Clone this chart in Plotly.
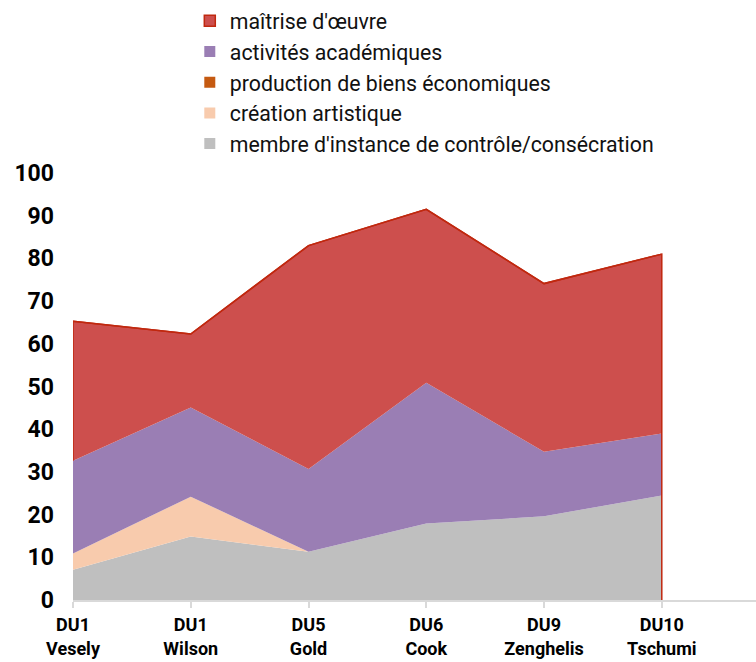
import numpy as np
import plotly.graph_objects as go

categories = ["DU1<br>Vesely", "DU1<br>Wilson", "DU5<br>Gold", "DU6<br>Cook", "DU9<br>Zenghelis", "DU10<br>Tschumi"]

membre = [7.1, 14.9, 11.3, 17.9, 19.6, 24.5]
creation = [3.8, 9.3, 0.0, 0.0, 0.0, 0.0]
production = [0.0, 0.0, 0.0, 0.0, 0.0, 0.0]
academique = [21.7, 20.9, 19.4, 33.0, 15.1, 14.5]
maitrise = [32.7, 17.2, 52.3, 40.6, 39.4, 42.0]

OUTLINE = "#C0280F"
series = [
    ("membre d'instance de contrôle/consécration", membre, "#BFBFBF"),
    ("création artistique", creation, "#F8CBAD"),
    ("production de biens économiques", production, "#C55A11"),
    ("activités académiques", academique, "#9A7EB4"),
    ("maîtrise d'œuvre", maitrise, "#CD4F4D"),
]

fig = go.Figure()
for i, (name, vals, color) in enumerate(series):
    top = name == "maîtrise d'œuvre"
    fig.add_trace(go.Scatter(
        x=categories, y=vals, name=name, stackgroup="one",
        mode="lines", fillcolor=color,
        line=dict(color=OUTLINE if top else color, width=1.5 if top else 0),
        showlegend=False, hoverinfo="skip",
    ))

# square legend swatches
for i, (name, vals, color) in enumerate(series):
    top = name == "maîtrise d'œuvre"
    fig.add_trace(go.Scatter(
        x=[None], y=[None], name=name, mode="markers",
        marker=dict(symbol="square", size=11, color=color,
                    line=dict(color=OUTLINE if top else color, width=1.5 if top else 0)),
        legendgroup=str(i), showlegend=True,
    ))

# outline of the top band, closing down on its edges
lower = np.array(membre) + np.array(creation) + np.array(production) + np.array(academique)
totals = lower + np.array(maitrise)
fig.add_trace(go.Scatter(
    x=[categories[0]] + categories + [categories[-1]],
    y=[lower[0]] + list(totals) + [0],
    mode="lines", line=dict(color=OUTLINE, width=1.5),
    showlegend=False, hoverinfo="skip",
))

fig.update_layout(
    width=756, height=662,
    margin=dict(l=73, r=0, t=171, b=62),
    paper_bgcolor="white", plot_bgcolor="white",
    font=dict(family="Roboto", color="#000000"),
    showlegend=True,
    legend=dict(
        x=0.171, y=1.404, xanchor="left", yanchor="top",
        traceorder="reversed", tracegroupgap=10,
        font=dict(family="Roboto", size=21.3, color="#111111"),
        itemwidth=30,
    ),
    xaxis=dict(
        type="category", range=[0, 5.8], automargin=False,
        showgrid=False, showline=True, linecolor="#D9D9D9", linewidth=1.5,
        ticks="outside", tickcolor="#D9D9D9", ticklen=6, tickwidth=1.5,
        tickfont=dict(family="Roboto", size=18, weight="bold", color="#000000"),
        ticklabelstandoff=2,
        zeroline=False,
    ),
    yaxis=dict(
        range=[0, 100], dtick=10, automargin=False,
        showgrid=False, showline=False, zeroline=False,
        tickfont=dict(family="Roboto", size=23, weight="bold", color="#000000"),
        ticklabelstandoff=18,
    ),
)

fig.write_html("out.html")
